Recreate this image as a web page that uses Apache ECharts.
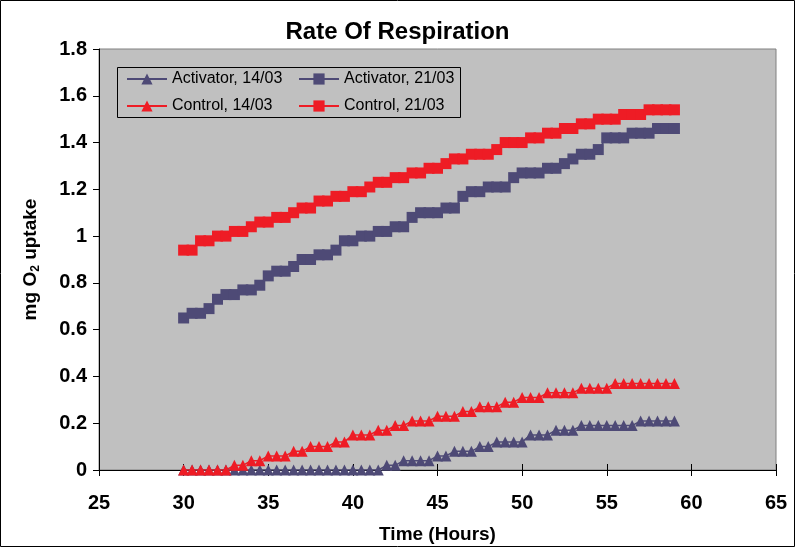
<!DOCTYPE html>
<html>
<head>
<meta charset="utf-8">
<script src="https://cdn.jsdelivr.net/npm/echarts@6/dist/echarts.min.js"></script>
<style>
  html, body { margin: 0; padding: 0; background: #ffffff; }
  #chart { width: 795px; height: 547px; }
</style>
</head>
<body>
<div id="chart"></div>
<script>
// Sampling times (hours)
const hours = [
  30, 30.5, 31, 31.5, 32, 32.5, 33, 33.5, 34, 34.5,
  35, 35.5, 36, 36.5, 37, 37.5, 38, 38.5, 39, 39.5,
  40, 40.5, 41, 41.5, 42, 42.5, 43, 43.5, 44, 44.5,
  45, 45.5, 46, 46.5, 47, 47.5, 48, 48.5, 49, 49.5,
  50, 50.5, 51, 51.5, 52, 52.5, 53, 53.5, 54, 54.5,
  55, 55.5, 56, 56.5, 57, 57.5, 58, 58.5, 59
];

// mg O2 uptake per run
const activator1403 = [
  0, 0, 0, 0, 0, 0, 0, 0, 0, 0,
  0, 0, 0, 0, 0, 0, 0, 0, 0, 0,
  0, 0, 0, 0, 0.02, 0.02, 0.04, 0.04, 0.04, 0.04,
  0.06, 0.06, 0.08, 0.08, 0.08, 0.10, 0.10, 0.12, 0.12, 0.12,
  0.12, 0.15, 0.15, 0.15, 0.17, 0.17, 0.17, 0.19, 0.19, 0.19,
  0.19, 0.19, 0.19, 0.19, 0.21, 0.21, 0.21, 0.21, 0.21
];
const activator2103 = [
  0.65, 0.67, 0.67, 0.69, 0.73, 0.75, 0.75, 0.77, 0.77, 0.79,
  0.83, 0.85, 0.85, 0.87, 0.90, 0.90, 0.92, 0.92, 0.94, 0.98,
  0.98, 1.00, 1.00, 1.02, 1.02, 1.04, 1.04, 1.08, 1.10, 1.10,
  1.10, 1.12, 1.12, 1.17, 1.19, 1.19, 1.21, 1.21, 1.21, 1.25,
  1.27, 1.27, 1.27, 1.29, 1.29, 1.31, 1.33, 1.35, 1.35, 1.37,
  1.42, 1.42, 1.42, 1.44, 1.44, 1.44, 1.46, 1.46, 1.46
];
const control1403 = [
  0, 0, 0, 0, 0, 0, 0.02, 0.02, 0.04, 0.04,
  0.06, 0.06, 0.06, 0.08, 0.08, 0.10, 0.10, 0.10, 0.12, 0.12,
  0.15, 0.15, 0.15, 0.17, 0.17, 0.19, 0.19, 0.21, 0.21, 0.21,
  0.23, 0.23, 0.23, 0.25, 0.25, 0.27, 0.27, 0.27, 0.29, 0.29,
  0.31, 0.31, 0.31, 0.33, 0.33, 0.33, 0.33, 0.35, 0.35, 0.35,
  0.35, 0.37, 0.37, 0.37, 0.37, 0.37, 0.37, 0.37, 0.37
];
const control2103 = [
  0.94, 0.94, 0.98, 0.98, 1.00, 1.00, 1.02, 1.02, 1.04, 1.06,
  1.06, 1.08, 1.08, 1.10, 1.12, 1.12, 1.15, 1.15, 1.17, 1.17,
  1.19, 1.19, 1.21, 1.23, 1.23, 1.25, 1.25, 1.27, 1.27, 1.29,
  1.29, 1.31, 1.33, 1.33, 1.35, 1.35, 1.35, 1.37, 1.40, 1.40,
  1.40, 1.42, 1.42, 1.44, 1.44, 1.46, 1.46, 1.48, 1.48, 1.50,
  1.50, 1.50, 1.52, 1.52, 1.52, 1.54, 1.54, 1.54, 1.54
];

const seriesNames = ['Activator, 14/03', 'Activator, 21/03', 'Control, 14/03', 'Control, 21/03'];

const PURPLE = '#4e4a76';
const RED = '#ee1c25';
const FONT = 'Liberation Sans, Arial, sans-serif';

function pairs(ys) {
  return hours.map((h, i) => [h, ys[i]]);
}

function makeSeries(name, ys, color, symbol, size) {
  return {
    name: name,
    type: 'line',
    xAxisIndex: 0,
    yAxisIndex: 0,
    data: pairs(ys),
    symbol: symbol,
    symbolSize: size,
    showAllSymbol: true,
    lineStyle: { color: color, width: 1.5 },
    itemStyle: { color: color, borderWidth: 0 },
    emphasis: { disabled: true },
    animation: false
  };
}

const chart = echarts.init(document.getElementById('chart'), null, { renderer: 'canvas' });

const legendCommon = {
  orient: 'vertical',
  top: 71,
  padding: 0,
  itemWidth: 40,
  itemHeight: 14,
  itemGap: 11,
  selectedMode: false,
  z: 6,
  textStyle: { fontFamily: FONT, fontSize: 16, color: '#000', lineHeight: 16 }
};

chart.setOption({
  backgroundColor: '#ffffff',
  animation: false,
  title: {
    text: 'Rate Of Respiration',
    left: 'center',
    top: 15,
    textStyle: { fontFamily: FONT, fontSize: 24, fontWeight: 'bold', color: '#000' }
  },
  graphic: [
    {
      type: 'rect',
      z: 3,
      shape: { x: 117.5, y: 67.5, width: 343, height: 50 },
      style: { fill: '#c0c0c0', stroke: '#000', lineWidth: 1 },
      silent: true
    },
    {
      type: 'rect',
      z: 1,
      shape: { x: 0.5, y: 0.5, width: 794, height: 546 },
      style: { fill: 'none', stroke: '#000', lineWidth: 1 },
      silent: true
    }
  ],
  legend: [
    Object.assign({}, legendCommon, { left: 126, data: [seriesNames[0], seriesNames[2]] }),
    Object.assign({}, legendCommon, { left: 298, data: [seriesNames[1], seriesNames[3]] })
  ],
  grid: {
    left: 99, right: 19, top: 49, bottom: 77,
    outerBoundsMode: 'none',
    show: true,
    backgroundColor: '#c0c0c0',
    borderColor: '#808080',
    borderWidth: 1
  },
  xAxis: [
    {
      type: 'value',
      min: 25, max: 65, interval: 5,
      name: 'Time (Hours)',
      nameLocation: 'middle',
      nameGap: 55,
      nameTextStyle: { fontFamily: FONT, fontSize: 19, fontWeight: 'bold', color: '#000' },
      axisLine: { onZero: false, lineStyle: { color: '#000', width: 1 } },
      axisTick: { show: true, inside: false, length: 6, lineStyle: { color: '#000' } },
      axisLabel: { fontFamily: FONT, fontSize: 20, fontWeight: 'bold', color: '#000', margin: 23 },
      splitLine: { show: false }
    },
    {
      // inner half of the crossing tick marks
      type: 'value',
      min: 25, max: 65, interval: 5,
      position: 'bottom',
      axisLine: { show: false },
      axisTick: { show: true, inside: true, length: 6, lineStyle: { color: '#000' } },
      axisLabel: { show: false },
      splitLine: { show: false }
    }
  ],
  yAxis: {
    type: 'value',
    min: 0, max: 1.8, interval: 0.2,
    name: '{t|mg O}{s|2}{t| uptake}',
    nameLocation: 'middle',
    nameRotate: 90,
    nameGap: 57,
    nameTextStyle: {
      fontFamily: FONT, fontSize: 19, fontWeight: 'bold', color: '#000',
      rich: {
        t: { fontFamily: FONT, fontSize: 19, fontWeight: 'bold', color: '#000' },
        s: { fontFamily: FONT, fontSize: 12, fontWeight: 'bold', color: '#000', padding: [10, 0, 0, 0] }
      }
    },
    axisLine: { show: true, lineStyle: { color: '#000', width: 1 } },
    axisTick: { show: true, inside: false, length: 6, lineStyle: { color: '#000' } },
    axisLabel: { fontFamily: FONT, fontSize: 20, fontWeight: 'bold', color: '#000', margin: 12 },
    splitLine: { show: false }
  },
  series: [
    makeSeries(seriesNames[0], activator1403, PURPLE, 'triangle', 11),
    makeSeries(seriesNames[1], activator2103, PURPLE, 'rect', 11),
    makeSeries(seriesNames[2], control1403, RED, 'triangle', 11),
    makeSeries(seriesNames[3], control2103, RED, 'rect', 11)
  ]
});
</script>
</body>
</html>
